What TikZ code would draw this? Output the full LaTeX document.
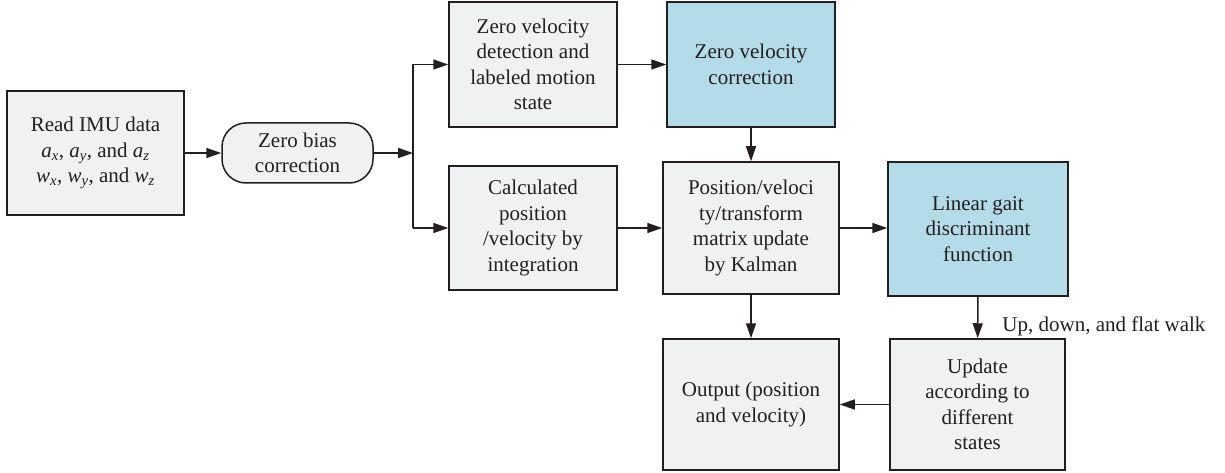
\documentclass[tikz,border=0pt]{standalone}
\usepackage{fontspec}
\setmainfont{Liberation Serif}
\newfontfamily\boxfont{Liberation Serif}
\usetikzlibrary{positioning, arrows.meta}
\definecolor{imgray}{HTML}{F0F1F3}
\definecolor{imblue}{HTML}{B4DCE8}
\definecolor{imline}{HTML}{231F20}

\begin{document}
\begin{tikzpicture}[x=1pt, y=-1pt, line width=1.5pt, draw=imline,
    >={Triangle[length=15pt, width=10pt]},
    box/.style={draw=imline, fill=imgray, line width=1.5pt, align=center, text=imline,
      inner sep=0pt, font=\boxfont\fontsize{21}{25.5}\selectfont}]
  \useasboundingbox (0,0) rectangle (1225,473);
  % input and bias removal
  \node[box, minimum width=177pt, minimum height=124pt] (imu) at (95.5,153)
    {Read IMU data\\ $\mathit{a}_{\mathit{x}}$, $\mathit{a}_{\mathit{y}}$, and $\mathit{a}_{\mathit{z}}$\\
     $\mathit{w}_{\mathit{x}}$, $\mathit{w}_{\mathit{y}}$, and $\mathit{w}_{\mathit{z}}$};
  \node[box, rounded corners=24pt, minimum width=151pt, minimum height=60pt] (bias) at (297.5,153)
    {Zero bias\\ correction};
  % upper branch
  \node[box, minimum width=168pt, minimum height=125pt] (zvd) at (533,64.5)
    {Zero velocity\\ detection and\\ labeled motion\\ state};
  \node[box, fill=imblue, minimum width=168pt, minimum height=125pt] (zvc) at (751,64.5)
    {Zero velocity\\ correction};
  % lower branch
  \node[box, minimum width=168pt, minimum height=124pt] (calc) at (533,228)
    {Calculated\\ position\\ /velocity by\\ integration};
  \node[box, minimum width=176pt, minimum height=132pt] (pos) at (751,228)
    {Position/veloci\\ ty/transform\\ matrix update\\ by Kalman};
  \node[box, fill=imblue, minimum width=180pt, minimum height=134pt] (gait) at (978,229)
    {Linear gait\\ discriminant\\ function};
  % outputs
  \node[box, minimum width=176pt, minimum height=131pt] (out) at (751,404.5)
    {Output (position\\ and velocity)};
  \node[box, minimum width=175pt, minimum height=131pt] (upd) at (977.5,404.5)
    {Update\\ according to\\ different\\ states};
  % connectors
  \coordinate (fork) at (413,153);
  \draw[->] (imu) -- (bias);
  \draw[->] (bias) -- (fork);
  \draw (fork |- zvd.west) -- (fork |- calc.west);
  \foreach \n in {zvd, calc}{
    \draw[->] (fork |- \n.west) -- (\n.west);
  }
  \draw[->] (zvd) -- (zvc);
  \draw[->] (zvc) -- (pos);
  \draw[->] (calc) -- (pos);
  \draw[->] (pos.east) -- (gait.west |- pos.east);
  \draw[->] (pos) -- (out);
  \draw[->] (gait) -- (upd)
    node[pos=0.72, anchor=west, xshift=24pt, inner sep=0pt, text=imline,
         font=\boxfont\fontsize{21}{25.5}\selectfont] (walk) {Up, down, and flat walk};
  \draw[->] (upd) -- (out);
\end{tikzpicture}
\end{document}
